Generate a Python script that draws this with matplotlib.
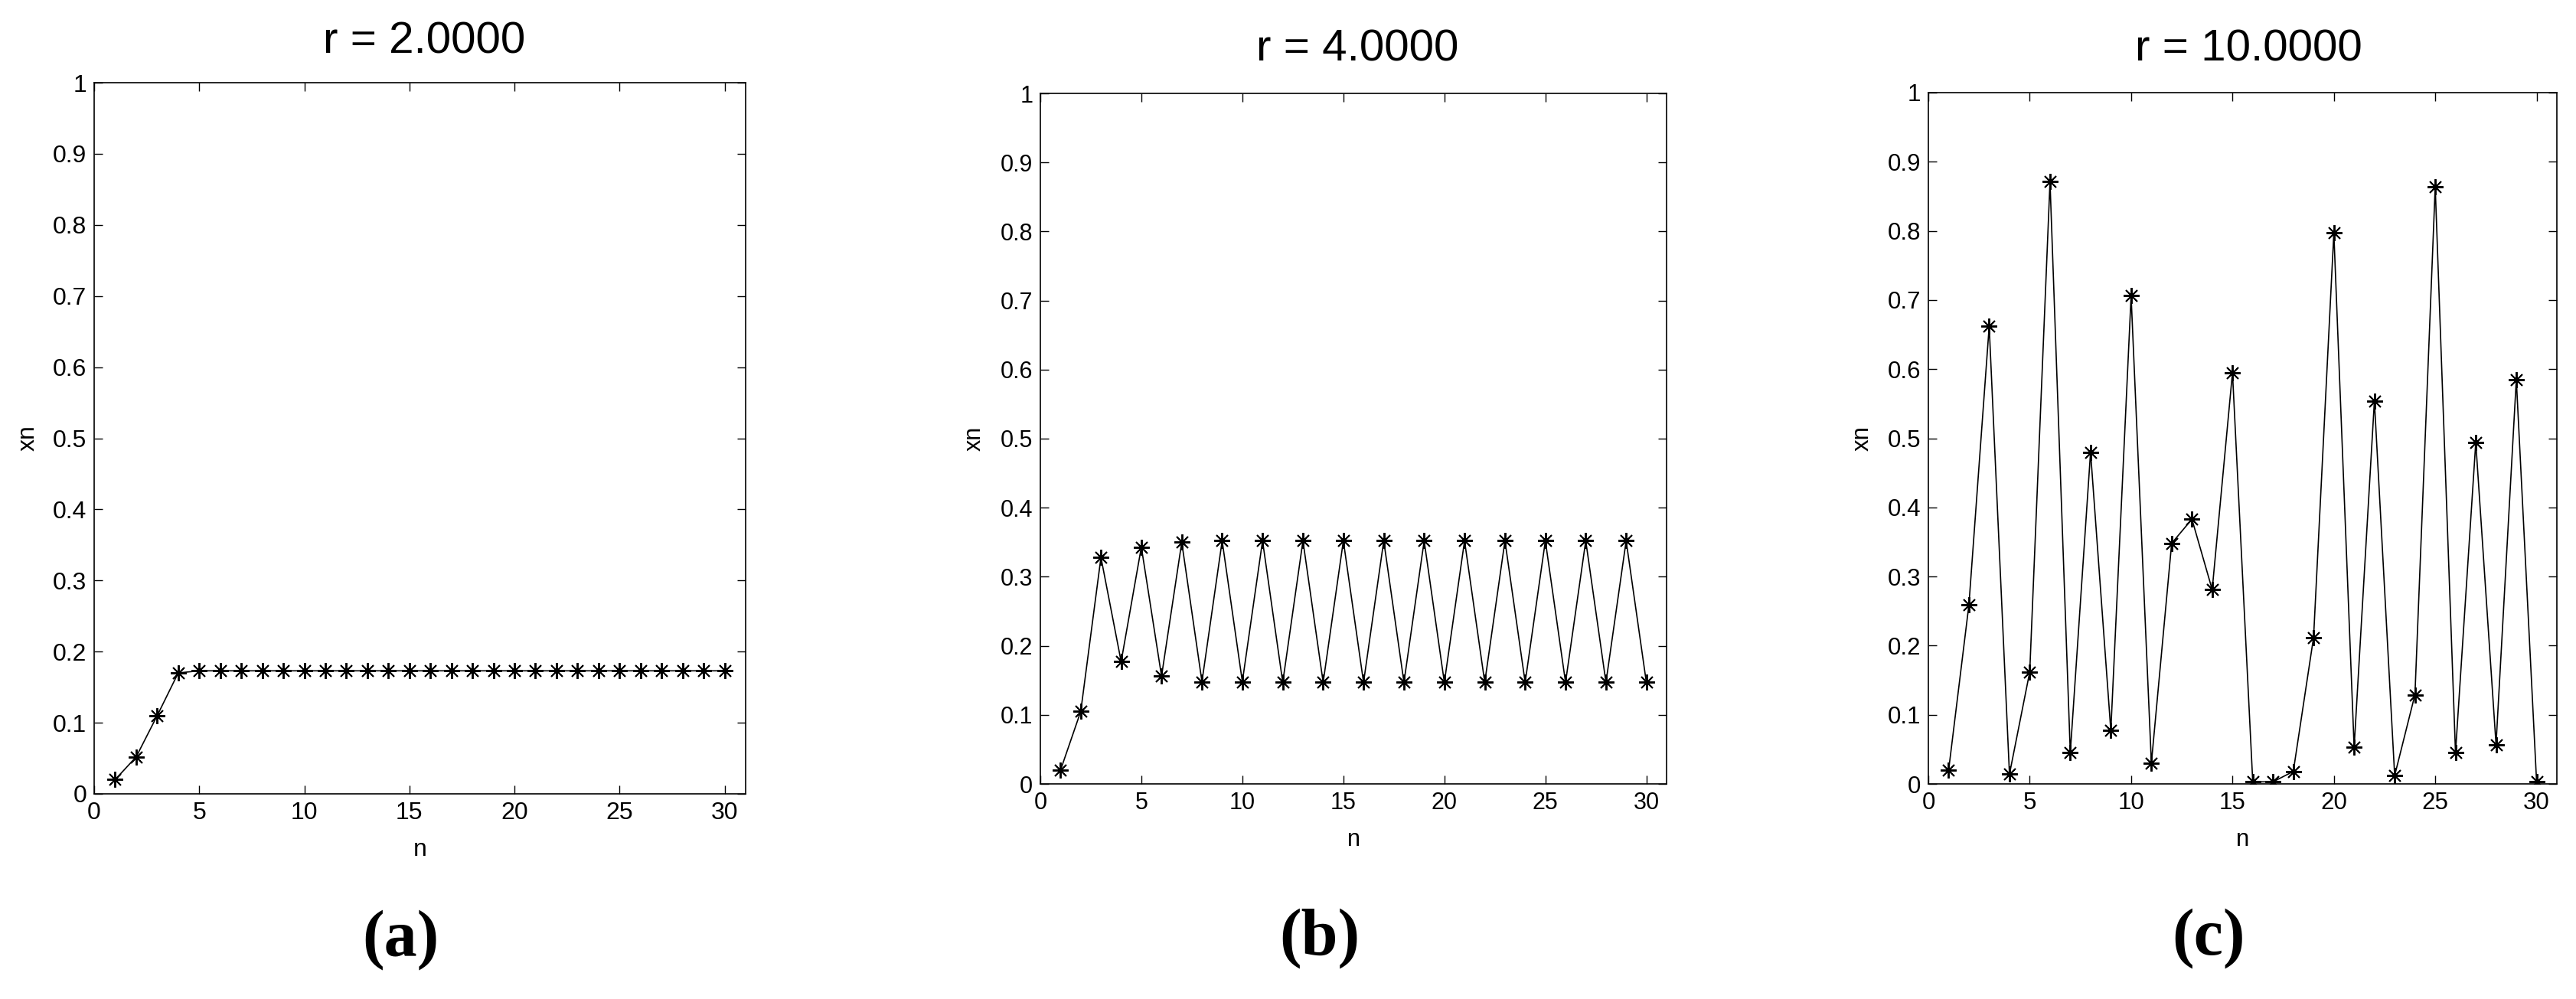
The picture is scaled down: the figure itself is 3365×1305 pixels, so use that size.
import numpy as np
import matplotlib
matplotlib.use("Agg")
import matplotlib.pyplot as plt
from matplotlib.ticker import FuncFormatter

# datos
n = np.arange(1, 31)
xn_a = [0.020, 0.052, 0.110, 0.170] + [0.173] * 26
xn_b = [0.020, 0.105, 0.328, 0.177, 0.343, 0.156, 0.350, 0.148, 0.352, 0.148,
        0.352, 0.147, 0.352, 0.147, 0.352, 0.147, 0.352, 0.147, 0.352, 0.147,
        0.352, 0.147, 0.352, 0.147, 0.352, 0.147, 0.352, 0.147, 0.352, 0.147]
xn_c = [0.020, 0.259, 0.662, 0.014, 0.162, 0.871, 0.045, 0.480, 0.077, 0.706,
        0.030, 0.348, 0.383, 0.281, 0.595, 0.003, 0.003, 0.018, 0.212, 0.797,
        0.053, 0.554, 0.012, 0.129, 0.864, 0.045, 0.494, 0.057, 0.585, 0.003]
titulos = ["r = 2.0000", "r = 4.0000", "r = 10.0000"]
etiquetas = ["(a)", "(b)", "(c)"]

W, H = 3365, 1305
fig = plt.figure(figsize=(W / 100, H / 100), dpi=100)
plt.rcParams['font.family'] = ['Liberation Sans', 'DejaVu Sans']

# posiciones en pixeles: izquierda, arriba, derecha, abajo
cajas = [(123, 108, 974, 1037), (1359, 122, 2177, 1024), (2519, 121, 3340, 1024)]
centros_tit = [(554, 54), (1773, 64), (2937, 64)]
centros_lab = [(523, 1228), (1724, 1226), (2885, 1226)]
tam_ticks = [23, 22, 22.5]

for i, datos in enumerate([xn_a, xn_b, xn_c]):
    l, t, r, b = cajas[i]
    ax = fig.add_axes([l / W, 1 - b / H, (r - l) / W, (b - t) / H])
    ax.plot(n, datos, color='black', linewidth=1.2,
            marker=(8, 2, 0), markersize=15, markeredgewidth=1.4)
    ax.set_xlim(0, 31)
    ax.set_ylim(0, 1)
    ax.set_xticks(np.arange(0, 31, 5))
    ax.set_yticks(np.linspace(0, 1, 11))
    ax.yaxis.set_major_formatter(FuncFormatter(lambda v, p: "%g" % round(v, 1)))
    ax.tick_params(direction='in', length=8, width=1.0, pad=7,
                   labelsize=tam_ticks[i], top=True, right=True)
    for s in ax.spines.values():
        s.set_linewidth(1.2)
    ax.set_xlabel("n", fontsize=tam_ticks[i])
    ax.xaxis.set_label_coords(0.5, -73 / (b - t))
    ax.xaxis.label.set_va('center')
    ax.set_ylabel("xn", fontsize=tam_ticks[i])
    ax.yaxis.set_label_coords(-86 / (r - l), 0.5)
    ax.yaxis.label.set_va('center')

    cx, cy = centros_tit[i]
    fig.text(cx / W, 1 - cy / H, titulos[i], fontsize=42, ha='center', va='center')
    cx, cy = centros_lab[i]
    fig.text(cx / W, 1 - cy / H, etiquetas[i], fontsize=62, ha='center', va='center',
             family='Liberation Serif', weight='bold')

plt.savefig("out.png", dpi=100)
